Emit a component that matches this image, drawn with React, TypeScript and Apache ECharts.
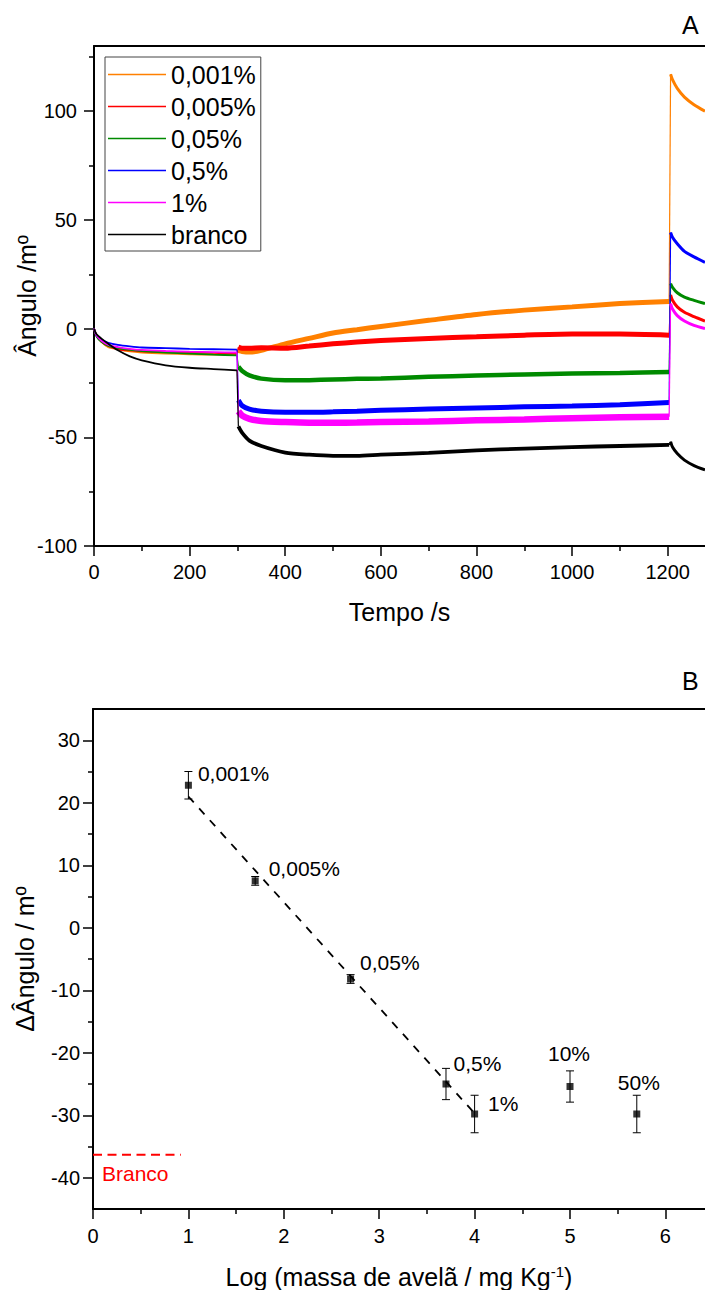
import React, { useEffect, useRef } from 'react';
import * as echarts from 'echarts';

const FONT = '"Liberation Sans", Arial, Helvetica, sans-serif';

// ---------- Panel A data ----------
const namesA = ['0,001%', '0,005%', '0,05%', '0,5%', '1%', 'branco'];
const colorsA = ['#ff8000', '#ff0000', '#008a00', '#0000ff', '#ff00ff', '#000000'];
const timeA = [0, 5, 15, 30, 50, 75, 100, 150, 200, 250, 299, 302, 310, 325, 350, 400, 450, 500, 550, 600, 700, 800, 900, 1000, 1100, 1203, 1206, 1210, 1220, 1235, 1255, 1278];
const orange001 = [0, -3, -6, -8.5, -9.5, -10.5, -11, -11.5, -11.8, -12, -12, -10, -10.5, -10.8, -10, -7, -4.5, -2, -0.5, 1, 3.8, 6.5, 8.5, 10, 11.5, 12.5, 117, 114.5, 110.5, 106.5, 103, 100];
const red005 = [0, -3, -6, -8, -9.5, -10, -10.5, -10.8, -11, -11.2, -11.5, -8.5, -9, -9, -8.8, -9, -8, -7, -6.2, -5.5, -4.5, -3.8, -3, -2.5, -2.5, -3, 15.5, 13, 10, 7.5, 5.5, 3.5];
const green05 = [0, -3.5, -6, -8, -9, -9.8, -10.3, -11, -11.5, -12, -12.3, -17.5, -19.5, -21.5, -23, -23.8, -23.7, -23.4, -23.1, -23, -22.2, -21.6, -21.1, -20.7, -20.4, -20, 20.7, 19, 16.5, 14.5, 13, 11.5];
const blue5 = [0, -3, -5, -6.5, -7.5, -8.2, -8.7, -9, -9.3, -9.5, -9.7, -33, -35.5, -37, -38, -38.5, -38.5, -38.3, -38, -37.6, -37, -36.5, -36, -35.6, -35, -34, 44.2, 42, 39, 35.5, 33, 30.5];
const magenta1 = [0, -3, -5.5, -7.5, -8.5, -9.3, -9.8, -10.3, -10.6, -10.8, -11, -38, -40, -41.5, -42.5, -43, -43.3, -43.3, -43.2, -43, -42.7, -42.2, -41.8, -41.2, -40.8, -40.5, 11.5, 9, 6, 3.5, 1.5, 0];
const branco = [0, -2.5, -4.5, -7, -10, -12.8, -14.6, -16.9, -18, -18.6, -19.2, -45, -48, -51.5, -54, -57, -58, -58.5, -58.5, -58, -57.2, -56, -55.2, -54.5, -54, -53.5, -52, -54.5, -57.5, -60.5, -63, -65];
const valuesA = [orange001, red005, green05, blue5, magenta1, branco];

const xTicksA = [0, 200, 400, 600, 800, 1000, 1200];
const xMinorA = [100, 300, 500, 700, 900, 1100];
const yTicksA = [-100, -50, 0, 50, 100];
const yMinorA = [-75, -25, 25, 75, 125];

// ---------- Panel B data ----------
const labelsB = ['0,001%', '0,005%', '0,05%', '0,5%', '1%', '10%', '50%'];
const xB = [1.0, 1.7, 2.7, 3.7, 4.0, 5.0, 5.7];
const yB = [22.8, 7.5, -8.2, -25.0, -29.8, -25.4, -29.8];
const errB = [2.2, 0.7, 0.7, 2.5, 3.0, 2.5, 3.0];
const fitX = [1.0, 4.0];
const fitY = [21.0, -29.7];
const brancoValue = -36.3;
const brancoX = [0, 0.92];

const xTicksB = [0, 1, 2, 3, 4, 5, 6];
const xMinorB = [0.5, 1.5, 2.5, 3.5, 4.5, 5.5];
const yTicksB = [-40, -30, -20, -10, 0, 10, 20, 30];
const yMinorB = [-35, -25, -15, -5, 5, 15, 25];

// label placement (style only)
const labelPlaceB: any[] = [
  { position: 'right', offset: [1, -12] },
  { position: 'right', offset: [5, -12.5] },
  { position: 'right', offset: [1, -16.5] },
  { position: 'right', offset: [-1, -20.5] },
  { position: 'right', offset: [5, -10.5] },
  { position: 'top', offset: [-1, -14] },
  { position: 'top', offset: [2, -13] },
];

const SEG1_END = 11; // index of first point after the 300 s step
const SEG2_END = 25; // index of last point before the 1204 s step

function pts(ts: number[], vs: number[], a: number, b: number) {
  const out: number[][] = [];
  for (let i = a; i <= b; i++) out.push([ts[i], vs[i]]);
  return out;
}

export default function App() {
  const ref = useRef<HTMLDivElement>(null);

  useEffect(() => {
    if (!ref.current) return;
    const chart = echarts.init(ref.current, undefined, { renderer: 'svg' });

    const fmt = (v: number) => String(v);
    const lab = { color: '#000', fontSize: 20, fontFamily: FONT, formatter: fmt };
    const nameStyle = { color: '#000', fontSize: 25, fontFamily: FONT };
    const mainLine = { show: true, onZero: false, lineStyle: { color: '#000', width: 2 } };
    const noLine = { show: false, onZero: false };
    const majorTick = (vals: number[]) => ({ show: true, inside: false, length: 10, customValues: vals, lineStyle: { color: '#000', width: 1.5 } });
    const minorTick = (vals: number[]) => ({ show: true, inside: false, length: 5, customValues: vals, lineStyle: { color: '#000', width: 1.5 } });

    const seriesA: any[] = [];
    valuesA.forEach((vals, k) => {
      const base = { type: 'line', name: namesA[k], xAxisIndex: 0, yAxisIndex: 0, symbol: 'none', color: colorsA[k], silent: true, clip: true };
      const thick = [5, 5, 4.5, 5, 6.5, 3.8][k];
      const sm = { smooth: 0.25 };
      seriesA.push({ ...base, ...sm, data: pts(timeA, vals, 0, SEG1_END - 1), lineStyle: { width: 1.8, color: colorsA[k] } });
      seriesA.push({ ...base, data: pts(timeA, vals, SEG1_END - 1, SEG1_END), lineStyle: { width: 1.2, color: colorsA[k] } });
      seriesA.push({ ...base, ...sm, data: pts(timeA, vals, SEG1_END, SEG2_END), lineStyle: { width: thick, color: colorsA[k] } });
      seriesA.push({ ...base, data: pts(timeA, vals, SEG2_END, SEG2_END + 1), lineStyle: { width: 1.2, color: colorsA[k] } });
      seriesA.push({ ...base, ...sm, data: pts(timeA, vals, SEG2_END + 1, timeA.length - 1), lineStyle: { width: 3, color: colorsA[k] } });
    });

    const ptLabel = { color: '#000', fontSize: 21, fontFamily: FONT, textBorderWidth: 0, opacity: 1 };

    const option: any = {
      animation: false,
      textStyle: { fontFamily: FONT },
      grid: [
        { left: 94, top: 46, width: 611, height: 500, outerBoundsMode: 'none', containLabel: false },
        { left: 93, top: 709, width: 612, height: 500, outerBoundsMode: 'none', containLabel: false },
      ],
      legend: {
        data: namesA,
        orient: 'vertical',
        left: 105,
        top: 57,
        padding: [5, 5, 4, 3],
        itemGap: 7,
        itemWidth: 58,
        itemHeight: 1.5,
        icon: 'rect',
        borderColor: '#444',
        borderWidth: 1,
        textStyle: { color: '#000', fontSize: 25, fontFamily: FONT, lineHeight: 25 },
        selectedMode: false,
      },
      xAxis: [
        {
          gridIndex: 0, type: 'value', position: 'bottom', min: 0, max: 1278,
          axisLine: mainLine, axisTick: majorTick(xTicksA),
          axisLabel: { ...lab, margin: 16, customValues: xTicksA },
          splitLine: { show: false },
          name: 'Tempo /s', nameLocation: 'middle', nameGap: 53, nameTextStyle: nameStyle, nameMoveOverlap: false,
        },
        {
          gridIndex: 0, type: 'value', position: 'bottom', min: 0, max: 1278,
          axisLine: noLine, axisTick: minorTick(xMinorA), axisLabel: { show: false }, splitLine: { show: false },
        },
        {
          gridIndex: 0, type: 'value', position: 'top', min: 0, max: 1278,
          axisLine: mainLine, axisTick: { show: false }, axisLabel: { show: false }, splitLine: { show: false },
        },
        {
          gridIndex: 1, type: 'value', position: 'bottom', min: 0, max: 6.415,
          axisLine: mainLine, axisTick: majorTick(xTicksB),
          axisLabel: { ...lab, margin: 17, customValues: xTicksB },
          splitLine: { show: false },
          name: 'Log (massa de avelã / mg Kg{sup|-1})', nameLocation: 'middle', nameGap: 55, nameMoveOverlap: false,
          nameTextStyle: { ...nameStyle, rich: { sup: { fontSize: 15, fontFamily: FONT, color: '#000', verticalAlign: 'top', lineHeight: 15 } } },
        },
        {
          gridIndex: 1, type: 'value', position: 'bottom', min: 0, max: 6.415,
          axisLine: noLine, axisTick: minorTick(xMinorB), axisLabel: { show: false }, splitLine: { show: false },
        },
        {
          gridIndex: 1, type: 'value', position: 'top', min: 0, max: 6.415,
          axisLine: mainLine, axisTick: { show: false }, axisLabel: { show: false }, splitLine: { show: false },
        },
      ],
      yAxis: [
        {
          gridIndex: 0, type: 'value', position: 'left', min: -100, max: 130,
          axisLine: mainLine, axisTick: majorTick(yTicksA),
          axisLabel: { ...lab, margin: 17, customValues: yTicksA },
          splitLine: { show: false },
          name: 'Ângulo /mº', nameLocation: 'middle', nameGap: 55, nameTextStyle: nameStyle, nameMoveOverlap: false,
        },
        {
          gridIndex: 0, type: 'value', position: 'left', min: -100, max: 130,
          axisLine: noLine, axisTick: minorTick(yMinorA), axisLabel: { show: false }, splitLine: { show: false },
        },
        {
          gridIndex: 1, type: 'value', position: 'left', min: -45, max: 35,
          axisLine: mainLine, axisTick: majorTick(yTicksB),
          axisLabel: { ...lab, margin: 13, customValues: yTicksB },
          splitLine: { show: false },
          name: 'ΔÂngulo / mº', nameLocation: 'middle', nameGap: 56, nameTextStyle: nameStyle, nameMoveOverlap: false,
        },
        {
          gridIndex: 1, type: 'value', position: 'left', min: -45, max: 35,
          axisLine: noLine, axisTick: minorTick(yMinorB), axisLabel: { show: false }, splitLine: { show: false },
        },
      ],
      graphic: [
        { type: 'text', left: 682, top: 12.5, style: { text: 'A', font: `25px ${FONT}`, fill: '#000' } },
        { type: 'text', left: 682, top: 668, style: { text: 'B', font: `25px ${FONT}`, fill: '#000' } },
      ],
      series: [
        ...seriesA,
        {
          type: 'line', name: 'fit', xAxisIndex: 3, yAxisIndex: 2, symbol: 'none', silent: true,
          data: fitX.map((x, i) => [x, fitY[i]]),
          lineStyle: { color: '#000', width: 1.8, type: [8, 8] },
        },
        {
          type: 'line', name: 'Branco', xAxisIndex: 3, yAxisIndex: 2, showSymbol: true, symbol: 'circle', symbolSize: 0, silent: true,
          data: brancoX.map((x, i) => (i === 0
            ? { value: [x, brancoValue], label: { show: true, position: 'right', offset: [4, 19], formatter: 'Branco', color: '#ff0000', fontSize: 21, fontFamily: FONT } }
            : { value: [x, brancoValue] })),
          lineStyle: { color: '#ff0000', width: 2, type: [9, 5.5] },
          itemStyle: { color: '#ff0000' },
        },
        {
          type: 'custom', name: 'err', xAxisIndex: 3, yAxisIndex: 2, silent: true,
          data: xB.map((x, i) => [x, yB[i], errB[i]]),
          encode: { x: 0, y: 1 },
          renderItem: (params: any, api: any) => {
            const x = api.value(0), y = api.value(1), e = api.value(2);
            const top = api.coord([x, y + e]);
            const bot = api.coord([x, y - e]);
            const hw = 4;
            const st = { stroke: '#000', lineWidth: 1 };
            return {
              type: 'group',
              children: [
                { type: 'line', shape: { x1: top[0], y1: top[1], x2: bot[0], y2: bot[1] }, style: st },
                { type: 'line', shape: { x1: top[0] - hw, y1: top[1], x2: top[0] + hw, y2: top[1] }, style: st },
                { type: 'line', shape: { x1: bot[0] - hw, y1: bot[1], x2: bot[0] + hw, y2: bot[1] }, style: st },
              ],
            };
          },
          z: 3,
        },
        {
          type: 'scatter', name: 'pts', xAxisIndex: 3, yAxisIndex: 2, symbol: 'rect', symbolSize: 7, silent: true,
          itemStyle: { color: '#000' },
          data: xB.map((x, i) => ({ value: [x, yB[i]], label: { ...ptLabel, ...labelPlaceB[i] } })),
          label: {
            show: true, ...ptLabel,
            formatter: (p: any) => labelsB[p.dataIndex],
          },
          z: 4,
        },
      ],
    };

    chart.setOption(option);
    return () => chart.dispose();
  }, []);

  return <div ref={ref} style={{ position: 'absolute', left: 0, top: 0, width: 705, height: 1290, background: '#fff' }} />;
}
